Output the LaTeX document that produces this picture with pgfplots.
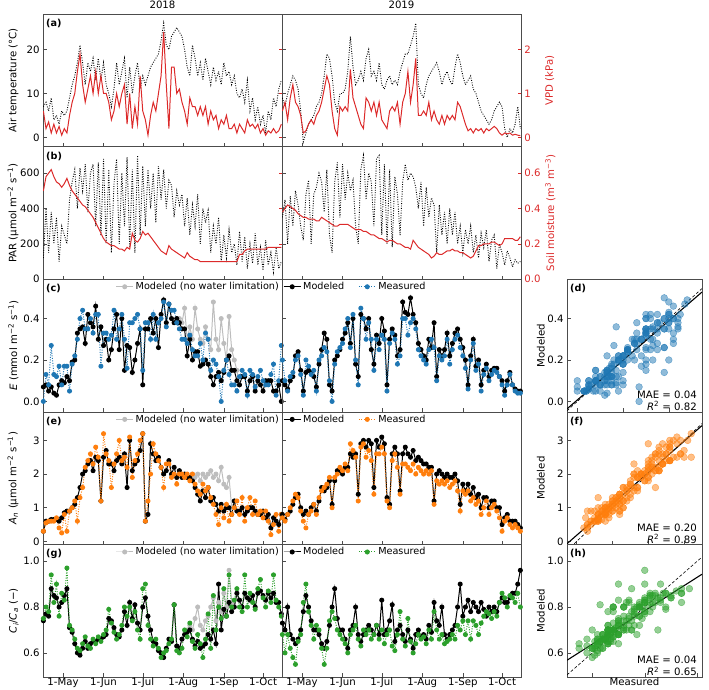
\documentclass[border=0pt]{standalone}
\usepackage{fontspec}
\setmainfont{DejaVu Sans}
\usepackage{pgfplots}
\usepackage{pgfplotstable}
\pgfplotsset{compat=1.18}
\newcommand\fs{\fontsize{9.7}{11.6}\selectfont}
\newcommand\fl{\fontsize{10.2}{12}\selectfont}
\definecolor{tblue}{HTML}{1F77B4}
\definecolor{torange}{HTML}{FF7F0E}
\definecolor{tgreen}{HTML}{2CA02C}
\definecolor{tred}{HTML}{DC2A2A}
\definecolor{tgray}{HTML}{BDBDBD}

\pgfplotstableread{
d T V P S Em Eo Am Ao Cm Co
106 7 0.6 120 0.50 0.07 0.00 0.3 0.3 0.74 0.75
108 8 0.2 400 0.58 0.08 0.13 0.6 0.55 0.77 0.80
110 6 0.35 150 0.60 0.05 0.08 0.6 0.6 0.76 0.78
112 9 0.1 380 0.62 0.07 0.27 0.65 0.6 0.88 0.94
114 4 0.3 200 0.58 0.04 0.13 0.65 0.6 0.85 0.82
116 5 0.1 350 0.55 0.03 0.12 0.65 0.7 0.84 0.90
118 3 0.25 100 0.54 0.08 0.17 0.6 0.4 0.80 0.76
120 6 0.05 300 0.52 0.10 0.08 0.7 0.25 0.82 0.86
122 5 0.2 250 0.54 0.09 0.17 0.85 0.8 0.85 0.83
124 6 0.1 200 0.57 0.12 0.17 0.9 0.3 0.88 0.97
126 9 0.5 450 0.53 0.10 0.05 0.9 0.9 0.71 0.72
128 12 0.8 550 0.50 0.19 0.18 1.0 1.0 0.69 0.70
130 14 1.0 620 0.48 0.20 0.22 1.1 1.2 0.64 0.66
132 17 1.5 400 0.46 0.33 0.30 1.3 0.6 0.60 0.62
134 21 1.9 630 0.44 0.35 0.40 1.6 1.3 0.59 0.61
136 17 1.2 500 0.42 0.36 0.44 2.0 1.6 0.62 0.64
138 12 0.8 650 0.41 0.28 0.35 2.1 2.2 0.65 0.67
140 17 1.1 380 0.39 0.42 0.35 2.3 2.4 0.62 0.63
142 15 1.4 600 0.37 0.38 0.40 2.4 2.6 0.64 0.62
144 18 1.0 650 0.35 0.36 0.33 2.1 2.3 0.65 0.66
146 13 1.5 300 0.32 0.46 0.42 2.5 2.8 0.65 0.64
148 18 1.0 660 0.29 0.30 0.42 2.4 2.5 0.66 0.67
150 13 1.4 250 0.26 0.36 0.17 1.2 1.2 0.66 0.65
152 17 1.0 680 0.23 0.27 0.33 2.5 3.2 0.67 0.68
154 12 1.0 200 0.21 0.30 0.33 2.7 2.6 0.68 0.70
156 10 0.8 620 0.20 0.20 0.30 2.3 2.4 0.75 0.79
158 7 0.4 150 0.19 0.25 0.32 2.3 1.6 0.74 0.73
160 11 0.6 540 0.19 0.35 0.44 2.1 2.3 0.71 0.69
162 17 1.0 680 0.18 0.42 0.30 2.4 2.6 0.68 0.66
164 12 0.7 200 0.17 0.25 0.35 2.5 3.0 0.67 0.68
166 15 1.0 600 0.17 0.40 0.42 2.3 2.4 0.70 0.72
168 18 1.2 300 0.16 0.15 0.30 2.6 2.5 0.78 0.80
170 9 0.3 690 0.18 0.27 0.16 1.6 2.2 0.72 0.76
172 16 1.0 180 0.17 0.26 0.38 3.0 3.1 0.82 0.80
174 10 0.2 620 0.26 0.14 0.38 2.1 1.9 0.75 0.74
176 14 0.7 150 0.22 0.20 0.40 2.3 2.4 0.81 0.78
178 17 0.3 700 0.21 0.28 0.42 2.4 2.6 0.73 0.70
180 11 1.4 250 0.23 0.35 0.35 2.7 3.0 0.70 0.66
182 14 0.6 640 0.27 0.08 0.15 3.2 3.2 0.80 0.88
184 12 0.4 300 0.25 0.35 0.38 0.6 0.6 0.84 0.90
186 14 0.05 620 0.26 0.35 0.38 0.8 1.2 0.76 0.72
188 16 0.5 400 0.24 0.40 0.30 2.9 2.0 0.70 0.66
190 17 0.8 600 0.22 0.33 0.42 2.6 2.9 0.65 0.63
192 18 0.6 320 0.20 0.40 0.30 2.4 2.6 0.64 0.66
194 19 1.0 640 0.18 0.26 0.38 2.5 2.4 0.61 0.62
196 22 1.4 450 0.16 0.42 0.40 2.2 2.2 0.60 0.58
198 26 2.4 620 0.15 0.49 0.48 2.0 1.6 0.58 0.60
200 21 1.2 400 0.14 0.38 0.36 2.1 2.3 0.62 0.61
202 20 0.2 560 0.19 0.47 0.47 2.4 2.3 0.66 0.64
204 23 1.6 530 0.17 0.40 0.44 2.0 1.9 0.65 0.66
206 24 1.6 350 0.16 0.38 0.44 2.2 2.0 0.81 0.81
208 25 1.0 500 0.15 0.40 0.38 1.9 1.7 0.63 0.61
210 24 1.1 420 0.14 0.38 0.35 2.1 2.0 0.62 0.60
212 23 0.8 480 0.13 0.35 0.30 1.9 2.0 0.66 0.62
214 20 0.6 300 0.12 0.35 0.30 2.0 1.9 0.68 0.70
216 16 0.3 460 0.15 0.22 0.28 1.9 2.0 0.69 0.67
218 14 0.9 250 0.13 0.30 0.32 1.9 1.8 0.70 0.73
220 21 0.7 420 0.12 0.20 0.25 1.8 2.0 0.66 0.65
222 18 0.7 300 0.11 0.24 0.22 1.6 1.7 0.63 0.62
224 14 0.5 480 0.11 0.24 0.22 1.4 1.5 0.65 0.68
226 17 0.7 200 0.10 0.17 0.28 1.2 1.4 0.62 0.64
228 13 0.5 400 0.10 0.18 0.20 1.5 1.7 0.63 0.58
230 18 0.7 320 0.10 0.20 0.33 1.3 1.5 0.64 0.66
232 15 0.3 390 0.10 0.18 0.30 1.6 1.6 0.68 0.77
234 12 0.6 150 0.10 0.12 0.15 1.2 1.3 0.66 0.62
236 16 0.4 300 0.10 0.08 0.20 1.3 1.1 0.70 0.85
238 13 0.5 200 0.10 0.12 0.18 1.1 0.8 0.64 0.70
240 15 0.2 350 0.10 0.14 0.12 0.9 0.5 0.90 0.80
242 12 0.4 100 0.10 0.10 0.00 1.1 1.0 0.70 0.75
244 17 0.3 250 0.10 0.14 0.15 0.9 0.7 0.79 0.88
246 14 0.5 120 0.10 0.20 0.20 1.0 1.1 0.76 0.76
248 15 0.2 280 0.10 0.22 0.13 1.0 0.6 0.82 0.94
250 12 0.2 150 0.10 0.15 0.08 0.8 0.8 0.78 0.80
252 14 0.3 200 0.10 0.15 0.08 1.2 1.0 0.80 0.83
254 10 0.1 80 0.10 0.10 0.05 0.9 1.2 0.86 0.88
256 9 0.3 270 0.14 0.08 0.12 0.9 0.8 0.83 0.80
258 11 0.2 100 0.14 0.12 0.15 1.0 1.3 0.80 0.78
260 8 0.1 240 0.16 0.12 0.13 0.8 0.6 0.86 0.94
262 13 0.4 60 0.17 0.05 0.03 0.9 1.0 0.84 0.80
264 6 0.25 200 0.17 0.10 0.15 1.0 1.3 0.83 0.86
266 9 0.3 90 0.17 0.12 0.13 1.0 0.8 0.85 0.82
268 4 0.2 260 0.17 0.05 0.07 0.9 1.2 0.80 0.79
270 7 0.3 80 0.17 0.10 0.12 0.8 0.8 0.86 0.88
272 3 0.1 180 0.17 0.08 0.15 0.8 0.9 0.87 0.92
274 5 0.2 50 0.17 0.05 0.10 0.9 0.7 0.85 0.84
276 1 0.05 220 0.17 0.10 0.08 0.7 0.9 0.83 0.80
278 6 0.15 80 0.18 0.10 0.08 0.8 0.6 0.86 0.87
280 4 0.1 150 0.18 0.10 0.13 0.4 0.2 0.84 0.82
282 9 0.2 40 0.18 0.05 0.18 0.7 0.5 0.86 0.94
284 7 0.1 180 0.18 0.05 0.03 0.6 0.8 0.82 0.83
286 11 0.15 60 0.18 0.08 0.10 0.5 0.3 0.82 0.80
288 13 0.3 100 0.18 0.00 0.27 0.8 0.8 0.77 0.76
}\tA

\pgfplotstableread{
d En An Cn
206 0.38 2.2 0.81
208 0.40 1.9 0.63
210 0.40 2.1 0.62
212 0.38 1.9 0.66
214 0.45 2.0 0.68
216 0.30 1.9 0.70
218 0.36 1.9 0.72
220 0.30 2.0 0.70
222 0.45 1.9 0.75
224 0.35 2.0 0.80
226 0.30 1.8 0.72
228 0.28 2.0 0.70
230 0.36 1.9 0.74
232 0.30 2.0 0.76
234 0.25 2.1 0.80
236 0.48 1.9 0.84
238 0.30 2.0 0.74
240 0.25 1.8 0.82
242 0.40 2.2 0.78
244 0.28 1.7 0.86
246 0.20 1.6 0.80
248 0.41 1.9 0.96
250 0.25 1.0 0.82
252 0.20 1.2 0.80
254 0.15 0.9 0.86
256 0.08 0.9 0.83
}\tN

\pgfplotstableread{
d T V P S Em Eo Am Ao Cm Co
106 9 0.6 350 0.38 0.10 0.20 0.8 0.7 0.73 0.68
108 7 0.8 450 0.40 0.08 0.10 0.65 0.6 0.70 0.60
110 10 0.4 200 0.42 0.06 0.05 0.8 0.8 0.80 0.68
112 12 0.9 470 0.41 0.10 0.12 0.9 1.0 0.68 0.62
114 14 1.2 300 0.40 0.12 0.14 1.1 1.2 0.66 0.58
116 13 0.8 500 0.39 0.22 0.20 1.3 1.4 0.64 0.55
118 11 0.7 420 0.37 0.24 0.22 1.4 1.3 0.66 0.65
120 6 0.5 300 0.36 0.15 0.13 1.0 0.9 0.70 0.68
122 -1 0.1 220 0.35 0.05 0.03 0.8 0.6 0.78 0.82
124 1 0.15 480 0.35 0.14 0.20 0.9 0.4 0.85 0.90
126 3 0.3 560 0.34 0.15 0.17 0.8 0.8 0.80 0.78
128 4 0.4 200 0.34 0.14 0.13 1.0 0.9 0.74 0.72
130 5 0.3 480 0.34 0.12 0.15 1.1 1.1 0.70 0.66
132 7 0.5 520 0.33 0.07 0.05 0.9 0.8 0.70 0.72
134 8 0.6 600 0.33 0.18 0.20 1.2 1.3 0.68 0.70
136 10 0.8 550 0.35 0.25 0.22 1.6 1.5 0.64 0.62
138 14 1.1 380 0.34 0.33 0.26 1.5 1.6 0.62 0.55
140 19 1.4 620 0.33 0.30 0.24 1.6 1.7 0.65 0.62
142 18 1.2 250 0.32 0.08 0.10 1.8 1.9 0.72 0.74
144 14 0.6 150 0.31 0.05 0.00 1.1 1.0 0.80 0.78
146 8 0.2 550 0.30 0.20 0.18 1.8 1.9 0.88 0.75
148 6 0.05 660 0.30 0.22 0.24 2.1 2.0 0.75 0.70
150 10 0.7 350 0.31 0.25 0.26 2.1 2.2 0.70 0.68
152 10 0.6 650 0.31 0.30 0.28 2.0 2.1 0.70 0.66
154 11 0.7 450 0.31 0.33 0.35 2.2 2.3 0.66 0.64
156 15 0.6 600 0.31 0.38 0.40 2.2 2.1 0.62 0.60
158 23 1.55 500 0.30 0.28 0.26 2.6 2.9 0.70 0.68
160 16 0.9 560 0.29 0.40 0.42 2.5 2.7 0.72 0.70
162 12 0.7 300 0.28 0.18 0.20 2.6 2.5 0.80 0.72
164 13 0.5 200 0.28 0.12 0.08 1.4 1.2 0.68 0.66
166 15 0.3 620 0.28 0.42 0.45 2.9 2.8 0.65 0.63
168 13 0.2 700 0.27 0.40 0.40 3.0 2.9 0.68 0.70
170 18 0.9 450 0.27 0.35 0.30 2.8 2.5 0.70 0.68
172 20 0.8 600 0.26 0.40 0.38 3.0 2.7 0.72 0.70
174 14 0.6 550 0.25 0.25 0.30 2.9 2.4 0.70 0.66
176 15 0.8 300 0.25 0.18 0.15 1.6 1.4 0.68 0.68
178 13 0.5 680 0.24 0.32 0.30 3.0 2.6 0.72 0.72
180 17 0.8 700 0.23 0.28 0.25 2.8 2.6 0.68 0.66
182 12 0.4 250 0.23 0.40 0.32 3.1 2.8 0.83 0.70
184 11 0.3 650 0.22 0.34 0.30 2.9 2.6 0.68 0.64
186 13 0.2 200 0.21 0.08 0.05 1.3 1.2 0.70 0.68
188 14 0.6 620 0.22 0.30 0.28 1.1 1.0 0.74 0.70
190 12 0.7 180 0.22 0.35 0.33 2.6 2.4 0.81 0.63
192 13 0.6 580 0.21 0.32 0.30 2.8 2.6 0.65 0.61
194 12 0.8 480 0.20 0.22 0.18 2.6 2.2 0.70 0.68
196 15 0.3 250 0.20 0.25 0.22 1.5 1.4 0.72 0.78
198 17 0.8 550 0.19 0.48 0.40 2.6 2.3 0.68 0.66
200 19 1.0 650 0.18 0.43 0.40 2.8 2.3 0.65 0.63
202 19 1.5 560 0.18 0.42 0.32 2.6 2.2 0.70 0.75
204 21 0.8 600 0.17 0.50 0.38 2.5 2.1 0.66 0.65
206 23 1.2 580 0.22 0.42 0.40 2.7 2.3 0.62 0.60
208 26 1.8 520 0.20 0.38 0.35 2.4 2.0 0.68 0.64
210 12 0.5 400 0.18 0.28 0.25 2.5 2.2 0.70 0.68
212 10 0.5 550 0.17 0.25 0.22 2.4 2.1 0.67 0.66
214 9 0.6 300 0.16 0.22 0.20 2.3 2.0 0.68 0.67
216 12 0.5 520 0.15 0.20 0.18 2.3 2.1 0.66 0.64
218 14 0.8 350 0.14 0.30 0.25 2.2 2.0 0.72 0.70
220 15 0.4 460 0.12 0.26 0.30 2.2 2.1 0.69 0.66
222 16 0.6 420 0.13 0.38 0.26 1.2 1.1 0.82 0.78
224 17 0.4 150 0.15 0.12 0.10 2.0 1.8 0.74 0.70
226 15 0.3 420 0.14 0.25 0.22 2.1 1.7 0.72 0.66
228 12 0.5 250 0.14 0.22 0.20 2.0 1.8 0.80 0.68
230 14 0.3 380 0.15 0.25 0.22 1.9 1.7 0.68 0.64
232 15 0.5 200 0.16 0.33 0.30 2.0 1.8 0.66 0.65
234 13 0.4 400 0.16 0.22 0.18 1.9 1.6 0.68 0.66
236 12 0.5 250 0.17 0.28 0.25 1.9 1.7 0.70 0.68
238 16 0.4 380 0.16 0.33 0.30 2.0 1.8 0.72 0.66
240 19 0.8 200 0.16 0.35 0.32 1.8 1.5 0.80 0.72
242 17 0.7 300 0.15 0.30 0.26 1.1 0.9 0.90 0.70
244 14 0.5 150 0.15 0.26 0.22 1.7 1.5 0.76 0.74
246 12 0.3 280 0.14 0.20 0.16 1.5 1.4 0.80 0.68
248 13 0.15 200 0.13 0.08 0.06 1.7 1.5 0.83 0.74
250 14 0.2 300 0.12 0.22 0.20 1.4 1.2 0.78 0.66
252 11 0.1 150 0.13 0.30 0.28 1.6 1.3 0.82 0.74
254 10 0.2 250 0.16 0.17 0.15 1.3 1.1 0.80 0.72
256 8 0.15 120 0.19 0.20 0.18 1.4 1.2 0.78 0.68
258 6 0.2 260 0.19 0.08 0.05 1.0 0.8 0.82 0.73
260 5 0.1 180 0.20 0.15 0.13 1.3 1.0 0.79 0.76
262 4 0.2 280 0.20 0.18 0.16 1.3 1.2 0.76 0.78
264 3 0.15 100 0.20 0.12 0.10 1.0 0.8 0.80 0.77
266 4 0.2 220 0.21 0.15 0.13 1.2 1.0 0.78 0.75
268 6 0.25 250 0.21 0.16 0.15 1.2 1.1 0.80 0.78
270 7 0.2 60 0.20 0.16 0.14 1.0 0.9 0.78 0.76
272 8 0.1 200 0.19 0.12 0.12 1.0 0.7 0.82 0.82
274 7 0.05 150 0.20 0.10 0.08 0.5 0.3 0.84 0.86
276 2 0.1 80 0.23 0.05 0.03 0.7 0.6 0.82 0.84
278 0 0.08 160 0.23 0.10 0.08 0.8 0.7 0.82 0.80
280 2 0.1 120 0.23 0.14 0.13 0.6 0.5 0.84 0.85
282 1 0.05 70 0.23 0.08 0.08 0.6 0.4 0.86 0.84
284 3 0.07 110 0.22 0.06 0.05 0.6 0.5 0.86 0.82
286 7 0.05 90 0.22 0.05 0.04 0.5 0.4 0.90 0.86
288 2 0.04 100 0.24 0.05 0.04 0.4 0.3 0.96 0.80
}\tB

\tikzset{
 plab/.style={anchor=north west, font=\fs\bfseries, inner sep=3bp, yshift=-2bp},
 ann/.style={anchor=south east, align=right, font=\fl, inner xsep=5bp, inner ysep=1bp},
}
\pgfplotsset{
 base/.style={scale only axis, tick align=inside, tick pos=left,
   axis line style={black!70}, major tick length=3.5bp,
   tick style={black!70, line width=0.5pt},
   tick label style={font=\fl}, label style={font=\fl},
   /pgf/number format/assume math mode=true, scaled ticks=false},
 ts/.style={base, width=239bp, height=132.6bp, xmin=105.7, xmax=288.5,
   xtick={121,152,182,213,244,274}, xticklabels={},
   title style={font=\fl, yshift=-4.5bp}},
 twin/.style={scale only axis, width=239bp, height=132.6bp, xmin=105.7, xmax=288.5,
   axis x line=none, axis y line*=right, tick align=inside, major tick length=3.5bp,
   ytick style={color=tred, line width=0.5pt}, yticklabel style={font=\fl, text=tred},
   axis line style={black!70}, scaled ticks=false,
   /pgf/number format/assume math mode=true},
 sc/.style={base, width=135bp, height=132.6bp, xticklabels={}},
 yfix/.style={yticklabel style={/pgf/number format/.cd, fixed, fixed zerofill, precision=1}},
 lylab/.style={ylabel style={at={(axis description cs:-0.088,0.5)}, anchor=south, font=\fl}},
 rylab/.style={ylabel style={at={(axis description cs:1.087,0.5)}, anchor=north, font=\fl, text=tred}},
 sylab/.style={ylabel style={at={(axis description cs:-0.139,0.5)}, anchor=south, font=\fl}},
 lg/.style={draw=none, fill=none, font=\fs, inner sep=1pt,
   /tikz/every even column/.append style={column sep=12bp}},
 tdot/.style={black, line width=0.9pt, dash pattern=on 0.9pt off 1.5pt},
 redl/.style={tred, line width=1pt},
 mod/.style={black, line width=1pt, mark=*, mark size=2pt},
 meas/.style={#1, line width=1pt, dash pattern=on 1pt off 1.5pt, mark=*, mark size=2pt, mark options={solid, fill=#1}},
 nowl/.style={tgray, line width=1pt, mark=*, mark size=2pt, mark options={fill=tgray}},
 pts/.style={only marks, mark=*, mark size=3.4pt, mark options={draw=#1, fill=#1, fill opacity=0.5, draw opacity=0.6}},
}

\begin{document}
{\fs
\begin{tikzpicture}
\useasboundingbox (0,0) rectangle (709bp,690bp);

% ---------- row (a)
\begin{axis}[ts, at={(43bp,543.4bp)}, ymin=-2.1, ymax=28.1, ytick={0,10,20},
  title={2018}, ylabel={Air temperature (°C)}, lylab]
\addplot[tdot] table[x=d,y=T]{\tA};
\node[plab] at (rel axis cs:0,1) {(a)};
\end{axis}
\begin{axis}[twin, at={(43bp,543.4bp)}, ymin=-0.21, ymax=2.81, ytick={0,1,2}, yticklabels={}]
\addplot[redl] table[x=d,y=V]{\tA};
\end{axis}
\begin{axis}[ts, at={(282bp,543.4bp)}, ymin=-2.1, ymax=28.1, ytick={0,10,20}, yticklabels={},
  title={2019}]
\addplot[tdot] table[x=d,y=T]{\tB};
\end{axis}
\begin{axis}[twin, at={(282bp,543.4bp)}, ymin=-0.21, ymax=2.81, ytick={0,1,2},
  ylabel={VPD (kPa)}, rylab]
\addplot[redl] table[x=d,y=V]{\tB};
\end{axis}

% ---------- row (b)
\begin{axis}[ts, at={(43bp,410.8bp)}, ymin=0, ymax=750, ytick={0,200,400,600},
  ylabel={PAR (µmol m\textsuperscript{−2} s\textsuperscript{−1})}, lylab]
\addplot[tdot] table[x=d,y=P]{\tA};
\node[plab] at (rel axis cs:0,1) {(b)};
\end{axis}
\begin{axis}[twin, at={(43bp,410.8bp)}, ymin=0, ymax=0.75, ytick={0,0.2,0.4,0.6}, yticklabels={}]
\addplot[redl] table[x=d,y=S]{\tA};
\end{axis}
\begin{axis}[ts, at={(282bp,410.8bp)}, ymin=0, ymax=750, ytick={0,200,400,600}, yticklabels={}]
\addplot[tdot] table[x=d,y=P]{\tB};
\end{axis}
\begin{axis}[twin, at={(282bp,410.8bp)}, ymin=0, ymax=0.75, ytick={0,0.2,0.4,0.6},
  yticklabel style={/pgf/number format/.cd, fixed, fixed zerofill, precision=1},
  ylabel={Soil moisture (m\textsuperscript{3} m\textsuperscript{−3})}, rylab]
\addplot[redl] table[x=d,y=S]{\tB};
\end{axis}

% ---------- row (c)
\begin{axis}[ts, at={(43bp,278.2bp)}, ymin=-0.05, ymax=0.59, ytick={0,0.2,0.4}, yfix,
  ylabel={\textit{E} (mmol m\textsuperscript{−2} s\textsuperscript{−1})}, lylab,
  legend style={lg, at={(1,1)}, anchor=north east}]
\addplot[nowl] table[x=d,y=En]{\tN}; \addlegendentry{Modeled (no water limitation)}
\addplot[mod, forget plot] table[x=d,y=Em]{\tA};
\addplot[meas=tblue, forget plot] table[x=d,y=Eo]{\tA};
\node[plab] at (rel axis cs:0,1) {(c)};
\end{axis}
\begin{axis}[ts, at={(282bp,278.2bp)}, ymin=-0.05, ymax=0.59, ytick={0,0.2,0.4}, yticklabels={},
  legend style={lg, at={(0,1)}, anchor=north west}, legend columns=2]
\addplot[mod] table[x=d,y=Em]{\tB}; \addlegendentry{Modeled}
\addplot[meas=tblue] table[x=d,y=Eo]{\tB}; \addlegendentry{Measured}
\end{axis}
\begin{axis}[sc, at={(567bp,278.2bp)}, xmin=-0.045, xmax=0.545, ymin=-0.05, ymax=0.59,
  xtick={0,0.2,0.4}, ytick={0,0.2,0.4}, yfix, ylabel={Modeled}, sylab]
\addplot[pts=tblue] table[x=Eo,y=Em]{\tA};
\addplot[pts=tblue] table[x=Eo,y=Em]{\tB};
\addplot[black, line width=0.6pt, dash pattern=on 3pt off 2pt] coordinates {(-0.045,-0.045) (0.545,0.545)};
\addplot[black, line width=1.1pt] coordinates {(-0.045,-0.036) (0.545,0.528)};
\node[plab] at (rel axis cs:0,1) {(d)};
\node[ann] at (rel axis cs:1,0) {MAE = 0.04\\\textit{R}\textsuperscript{2} = 0.82};
\end{axis}

% ---------- row (e)
\begin{axis}[ts, at={(43bp,145.6bp)}, ymin=-0.09, ymax=3.85, ytick={0,1,2,3},
  ylabel={\textit{A\textsubscript{n}} (µmol m\textsuperscript{−2} s\textsuperscript{−1})}, lylab,
  legend style={lg, at={(1,1)}, anchor=north east}]
\addplot[nowl] table[x=d,y=An]{\tN}; \addlegendentry{Modeled (no water limitation)}
\addplot[mod, forget plot] table[x=d,y=Am]{\tA};
\addplot[meas=torange, forget plot] table[x=d,y=Ao]{\tA};
\node[plab] at (rel axis cs:0,1) {(e)};
\end{axis}
\begin{axis}[ts, at={(282bp,145.6bp)}, ymin=-0.09, ymax=3.85, ytick={0,1,2,3}, yticklabels={},
  legend style={lg, at={(0,1)}, anchor=north west}, legend columns=2]
\addplot[mod] table[x=d,y=Am]{\tB}; \addlegendentry{Modeled}
\addplot[meas=torange] table[x=d,y=Ao]{\tB}; \addlegendentry{Measured}
\end{axis}
\begin{axis}[sc, at={(567bp,145.6bp)}, xmin=-0.27, xmax=3.5, ymin=-0.09, ymax=3.85,
  xtick={0,1,2,3}, ytick={0,1,2,3}, ylabel={Modeled}, sylab]
\addplot[pts=torange] table[x=Ao,y=Am]{\tA};
\addplot[pts=torange] table[x=Ao,y=Am]{\tB};
\addplot[black, line width=0.6pt, dash pattern=on 3pt off 2pt] coordinates {(-0.27,-0.27) (3.5,3.5)};
\addplot[black, line width=1.1pt] coordinates {(-0.27,-0.07) (3.5,3.44)};
\node[plab] at (rel axis cs:0,1) {(f)};
\node[ann] at (rel axis cs:1,0) {MAE = 0.20\\\textit{R}\textsuperscript{2} = 0.89};
\end{axis}

% ---------- row (g)
\begin{axis}[ts, at={(43bp,13bp)}, ymin=0.495, ymax=1.073, ytick={0.6,0.8,1.0}, yfix,
  xticklabels={1-May,1-Jun,1-Jul,1-Aug,1-Sep,1-Oct}, xticklabel style={inner sep=1bp},
  ylabel={\textit{C\textsubscript{i}}/\textit{C\textsubscript{a}} (−)}, lylab,
  legend style={lg, at={(1,1)}, anchor=north east}]
\addplot[nowl] table[x=d,y=Cn]{\tN}; \addlegendentry{Modeled (no water limitation)}
\addplot[mod, forget plot] table[x=d,y=Cm]{\tA};
\addplot[meas=tgreen, forget plot] table[x=d,y=Co]{\tA};
\node[plab] at (rel axis cs:0,1) {(g)};
\end{axis}
\begin{axis}[ts, at={(282bp,13bp)}, ymin=0.495, ymax=1.073, ytick={0.6,0.8,1.0}, yticklabels={},
  xticklabels={1-May,1-Jun,1-Jul,1-Aug,1-Sep,1-Oct}, xticklabel style={inner sep=1bp},
  legend style={lg, at={(0,1)}, anchor=north west}, legend columns=2]
\addplot[mod] table[x=d,y=Cm]{\tB}; \addlegendentry{Modeled}
\addplot[meas=tgreen] table[x=d,y=Co]{\tB}; \addlegendentry{Measured}
\end{axis}
\begin{axis}[sc, at={(567bp,13bp)}, xmin=0.504, xmax=1.018, ymin=0.495, ymax=1.073,
  xtick={0.6,0.8,1.0}, ytick={0.6,0.8,1.0}, yfix, ylabel={Modeled}, sylab,
  xlabel={Measured}, xlabel style={at={(axis description cs:0.5,0)}, anchor=north, inner sep=1bp, font=\fl}]
\addplot[pts=tgreen] table[x=Co,y=Cm]{\tA};
\addplot[pts=tgreen] table[x=Co,y=Cm]{\tB};
\addplot[black, line width=0.6pt, dash pattern=on 3pt off 2pt] coordinates {(0.504,0.504) (1.018,1.018)};
\addplot[black, line width=1.1pt] coordinates {(0.504,0.568) (1.018,0.943)};
\node[plab] at (rel axis cs:0,1) {(h)};
\node[ann] at (rel axis cs:1,0) {MAE = 0.04\\\textit{R}\textsuperscript{2} = 0.65};
\end{axis}
\end{tikzpicture}}
\end{document}
